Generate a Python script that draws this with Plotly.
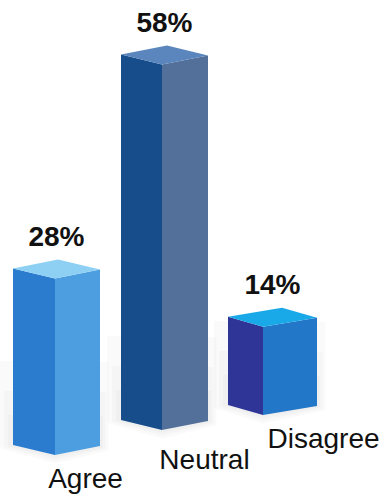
import plotly.graph_objects as go

# Survey responses (percent)
categories = ["Agree", "Neutral", "Disagree"]
values = [28, 58, 14]
value_labels = ["28%", "58%", "14%"]

# Face colours per bar: left face, right face, top face
left_colors = ["#2b7ccf", "#164d8a", "#2f3597"]
right_colors = ["#4d9ee0", "#52709a", "#2377c9"]
top_colors = ["#8dd0f4", "#5a86bd", "#1aa9e8"]

# Layout of the pseudo-3D prisms (x in canvas units, y in percent units)
W, H = 385, 496
PX_PER_PCT = 6.3
x_left = [13, 121, 228]
x_front = [55, 162, 263]
x_right = [100, 208, 317]
floor = [(H - 455) / PX_PER_PCT, (H - 430) / PX_PER_PCT, (H - 415) / PX_PER_PCT]
rise_left = 10 / PX_PER_PCT
rise_right = 9 / PX_PER_PCT
label_gap = 21 / PX_PER_PCT
cat_x = [85.5, 204.5, 323.5]
cat_y = [(H - 481) / PX_PER_PCT, (H - 462) / PX_PER_PCT, (H - 441) / PX_PER_PCT]

fig = go.Figure()


def poly(xs, ys, color, opacity=1.0):
    fig.add_trace(go.Scatter(
        x=xs + [xs[0]], y=ys + [ys[0]], mode="lines", fill="toself",
        fillcolor=color, line=dict(width=0, color=color), opacity=opacity,
        hoverinfo="skip", showlegend=False,
    ))


# soft floor shadow behind each prism
for i in range(len(values)):
    xl, xf, xr, b = x_left[i], x_front[i], x_right[i], floor[i]
    for k, spread in enumerate([14, 9, 5]):
        s = spread / PX_PER_PCT
        poly([xl - spread, xf, xr + spread * 0.6, xr + spread * 0.6, xl - spread],
             [b + rise_left - s * 0.2, b - s * 0.6, b + rise_right - s * 0.3,
              b + rise_right + 6 * s, b + rise_left + 6 * s],
             "rgba(120,120,120,1)", opacity=0.035)

for i, v in enumerate(values):
    xl, xf, xr, b = x_left[i], x_front[i], x_right[i], floor[i]
    top = b + v
    xb = xl + xr - xf
    # left face
    poly([xl, xf, xf, xl], [b + rise_left, b, top, top + rise_left], left_colors[i])
    # right face
    poly([xf, xr, xr, xf], [b, b + rise_right, top + rise_right, top], right_colors[i])
    # top face
    poly([xl, xf, xr, xb],
         [top + rise_left, top, top + rise_right, top + rise_left + rise_right],
         top_colors[i])

# value labels above each prism
fig.add_trace(go.Scatter(
    x=[(x_left[i] + x_right[i]) / 2 for i in range(len(values))],
    y=[floor[i] + values[i] + rise_left + rise_right + label_gap for i in range(len(values))],
    mode="text", text=value_labels, textposition="middle center",
    textfont=dict(family="Liberation Sans", size=28, color="#111111"),
    texttemplate="<b>%{text}</b>",
    hoverinfo="skip", showlegend=False,
))

# category labels
fig.add_trace(go.Scatter(
    x=cat_x, y=cat_y, mode="text", text=categories, textposition="middle center",
    textfont=dict(family="Liberation Sans", size=28, color="#111111"),
    hoverinfo="skip", showlegend=False,
))

fig.update_layout(
    width=W, height=H, margin=dict(l=0, r=0, t=0, b=0),
    paper_bgcolor="white", plot_bgcolor="white",
    xaxis=dict(range=[0, W], visible=False, fixedrange=True),
    yaxis=dict(range=[0, H / PX_PER_PCT], visible=False, fixedrange=True),
)

fig.write_html("out.html", config={"displayModeBar": False})
